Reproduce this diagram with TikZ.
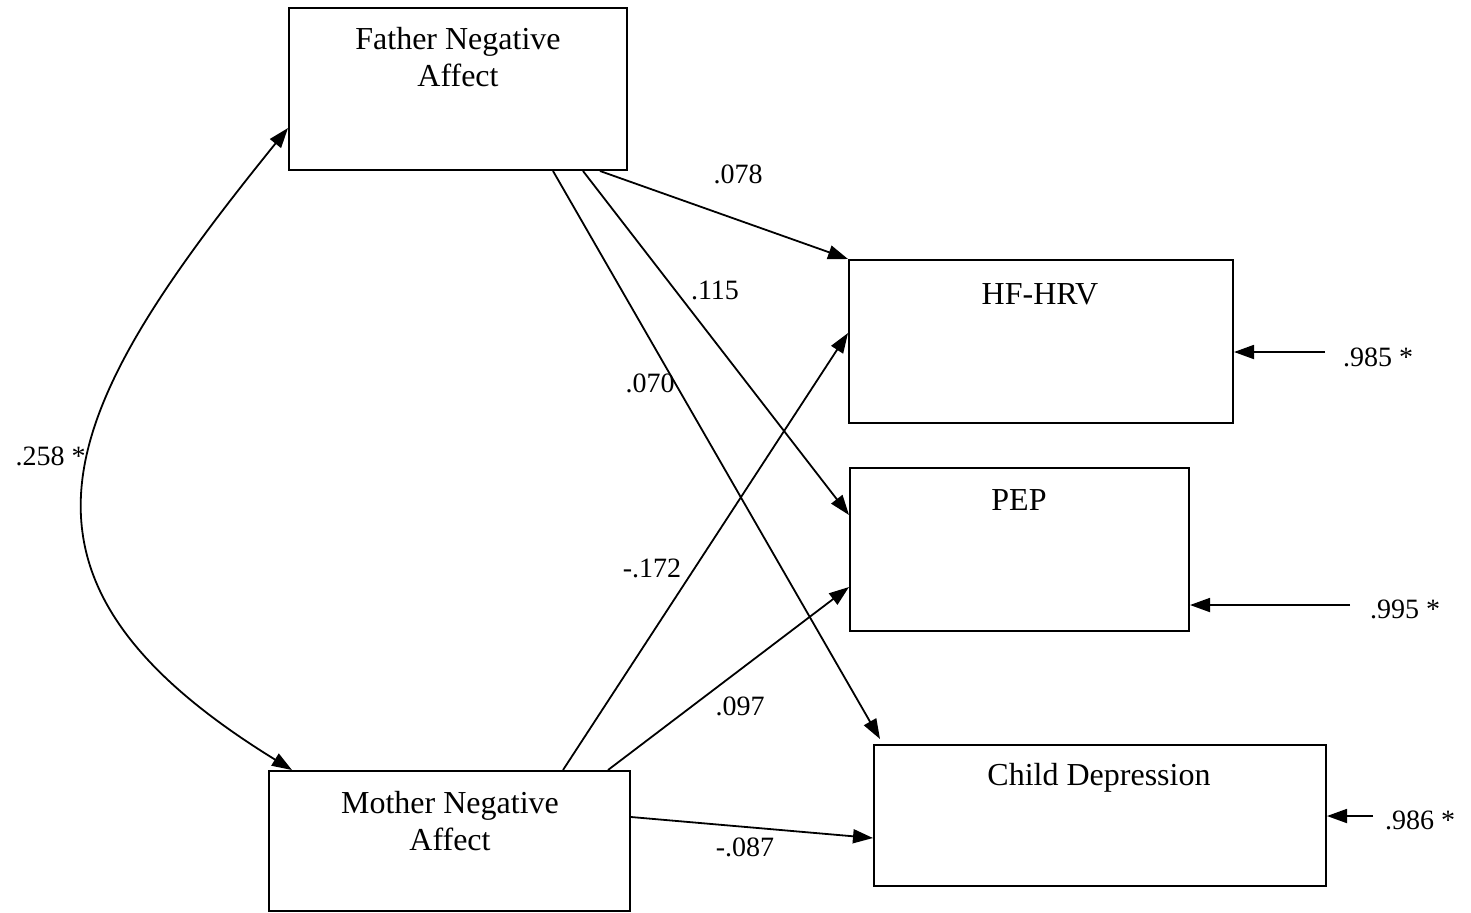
\documentclass[tikz,border=0pt]{standalone}
\usepackage{fontspec}
\setmainfont{Liberation Serif}
\usetikzlibrary{arrows.meta}
\tikzset{
  var/.style={draw, line width=1pt, inner sep=0pt},
  vtext/.style={font=\fontsize{16}{18.5}\selectfont, align=center, inner sep=0pt},
  lbl/.style={font=\fontsize{14}{17}\selectfont, align=center, inner sep=0pt},
  eff/.style={line width=0.9pt, -{Triangle[length=10pt,width=7pt]}},
  cov/.style={line width=0.9pt, {Triangle[length=10pt,width=7pt]}-{Triangle[length=10pt,width=7pt]}},
}
\begin{document}
\begin{tikzpicture}[x=0.5pt,y=-0.5pt]
\useasboundingbox (0,0) rectangle (1471,912);
\node[var, minimum width=169pt, minimum height=81pt] (fa) at (458,89){};
\node[vtext] (fat) at (458,57){Father Negative\\Affect};
\node[var, minimum width=180.5pt, minimum height=70pt] (mo) at (449.5,841){};
\node[vtext] (mot) at (450,821){Mother Negative\\Affect};
\node[var, minimum width=192pt, minimum height=81.5pt] (hf) at (1041,341.5){};
\node[vtext] (hft) at (1040,294){HF-HRV};
\node[var, minimum width=169.5pt, minimum height=81.5pt] (pe) at (1019.5,549.5){};
\node[vtext] (pet) at (1019,500){PEP};
\node[var, minimum width=226pt, minimum height=70.5pt] (cd) at (1100,815.5){};
\node[vtext] (cdt) at (1099,778){Child Depression};
\draw[cov] ([yshift=-19.5pt]fa.west) .. controls (60,410) and (-25,575) .. ([xshift=12pt]mo.north west);
\node[lbl, anchor=east] (c258) at (86,456){.258 *};
\draw[eff] ([xshift=71pt]fa.south) -- (hf.north west);
\node[lbl] (c078) at (738,174){.078};
\draw[eff] ([xshift=62.5pt]fa.south) -- ([yshift=17.25pt]pe.west);
\node[lbl] (c115) at (715,290){.115};
\draw[eff] ([xshift=47.5pt]fa.south) -- ([xshift=3.5pt,yshift=2.5pt]cd.north west);
\node[lbl] (c070) at (650,383){.070};
\draw[eff] ([xshift=56.75pt]mo.north) -- ([yshift=4.25pt]hf.west);
\node[lbl] (c172) at (652,568){-.172};
\draw[eff] ([xshift=79.25pt]mo.north) -- ([yshift=-18.75pt]pe.west);
\node[lbl] (c097) at (740,706){.097};
\draw[eff] ([yshift=12pt]mo.east) -- ([yshift=-11.25pt]cd.west);
\node[lbl] (c087) at (745,847){-.087};
\coordinate (r1) at (1325,352);
\draw[eff] (r1) -- (hf.east |- r1);
\node[lbl] (e985) at (1378,357){.985 *};
\coordinate (r2) at (1350,605);
\draw[eff] (r2) -- (pe.east |- r2);
\node[lbl] (e995) at (1405,609){.995 *};
\coordinate (r3) at (1373,816);
\draw[eff] (r3) -- (cd.east |- r3);
\node[lbl] (e986) at (1420,820){.986 *};
\end{tikzpicture}
\end{document}
